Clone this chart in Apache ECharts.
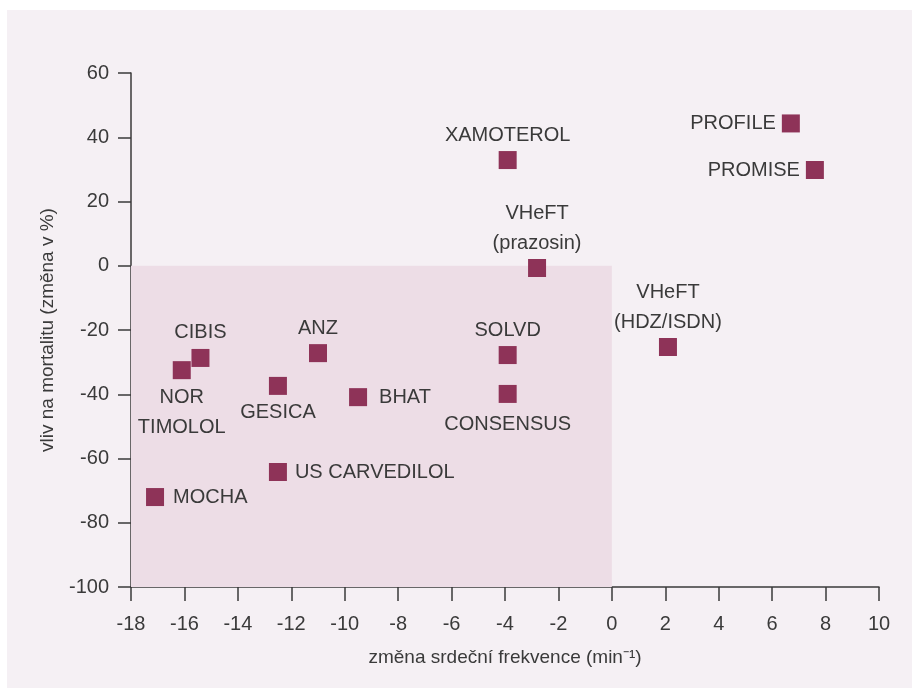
<!DOCTYPE html>
<html>
<head>
<meta charset="utf-8">
<script src="https://cdn.jsdelivr.net/npm/echarts@6/dist/echarts.min.js"></script>
<style>
  html, body { margin: 0; padding: 0; background: #fff; }
  #chart {
    position: absolute;
    left: 7px;
    top: 10px;
    width: 905px;
    height: 678px;
    background: #f5f0f4;
  }
</style>
</head>
<body>
<div id="chart"></div>
<script>
  // studie a jejich hodnoty
  const studies = ['PROFILE', 'PROMISE', 'XAMOTEROL', 'VHeFT\n(prazosin)', 'VHeFT\n(HDZ/ISDN)',
    'SOLVD', 'CONSENSUS', 'ANZ', 'BHAT', 'GESICA', 'CIBIS', 'NOR\nTIMOLOL', 'US CARVEDILOL', 'MOCHA'];
  const heartRate = [6.7, 7.6, -3.9, -2.8, 2.1, -3.9, -3.9, -11.0, -9.5, -12.5, -15.4, -16.1, -12.5, -17.1];
  const mortality = [44.3, 29.8, 32.9, -0.7, -25.3, -27.8, -39.9, -27.2, -40.9, -37.4, -28.7, -32.5, -64.2, -72.0];
  const xTicks = [-18, 10, 2];      // min, max, krok
  const yTicks = [-100, 60, 20];
  const shadedArea = [[-18, -100], [0, 0]];

  // kam psat popisek u ktereho bodu (a jak daleko)
  const labelSide = {
    'PROFILE': 'left', 'PROMISE': 'left', 'BHAT': 'right', 'US CARVEDILOL': 'right', 'MOCHA': 'right',
    'CONSENSUS': 'bottom', 'GESICA': 'bottom', 'NOR\nTIMOLOL': 'bottom'
  };
  const sideGap = { top: 1, bottom: 3, left: 6, right: 9 };
  const extraGap = { 'BHAT': 3, 'CONSENSUS': 4, 'US CARVEDILOL': -1 };

  const font = 'Liberation Sans';
  const textColor = '#3a3a3a';
  const lineColor = '#3a3a3a';

  const points = studies.map((name, i) => {
    const pos = labelSide[name] || 'top';
    return {
      name: name,
      value: [heartRate[i], mortality[i]],
      label: {
        position: pos,
        distance: sideGap[pos] + (extraGap[name] || 0),
        align: pos === 'left' ? 'right' : (pos === 'right' ? 'left' : 'center')
      }
    };
  });

  const myChart = echarts.init(document.getElementById('chart'));
  const options = {
    animation: false,
    grid: { left: 124, right: 33, top: 63, bottom: 101 },
    xAxis: {
      type: 'value',
      min: xTicks[0], max: xTicks[1], interval: xTicks[2],
      name: 'změna srdeční frekvence (min⁻¹)',
      nameLocation: 'middle',
      nameGap: 61,
      nameTextStyle: { fontFamily: font, fontSize: 19, color: textColor },
      splitLine: { show: false },
      axisLine: { onZero: false, lineStyle: { color: lineColor, width: 1.5 } },
      axisTick: { length: 14, lineStyle: { color: lineColor, width: 1.5 } },
      axisLabel: { margin: 27, fontFamily: font, fontSize: 20, color: textColor }
    },
    yAxis: {
      type: 'value',
      min: yTicks[0], max: yTicks[1], interval: yTicks[2],
      name: 'vliv na mortalitu (změna v %)',
      nameLocation: 'middle',
      nameGap: 74,
      nameTextStyle: { fontFamily: font, fontSize: 19, color: textColor },
      splitLine: { show: false },
      axisLine: { onZero: false, lineStyle: { color: lineColor, width: 1.5 } },
      axisTick: { length: 13, lineStyle: { color: lineColor, width: 1.5 } },
      axisLabel: { margin: 22, fontFamily: font, fontSize: 20, color: textColor }
    },
    series: [
      {
        type: 'scatter',
        symbol: 'rect',
        symbolSize: 18,
        itemStyle: { color: '#8e3358', opacity: 1 },
        label: {
          show: true,
          formatter: '{b}',
          fontFamily: font,
          fontSize: 20,
          lineHeight: 30,
          color: textColor
        },
        data: points,
        markArea: {
          silent: true,
          itemStyle: { color: '#eddde6' },
          label: { show: false },
          data: [[{ coord: shadedArea[0] }, { coord: shadedArea[1] }]]
        },
        z: 3
      }
    ]
  };
  myChart.setOption(options);
</script>
</body>
</html>
